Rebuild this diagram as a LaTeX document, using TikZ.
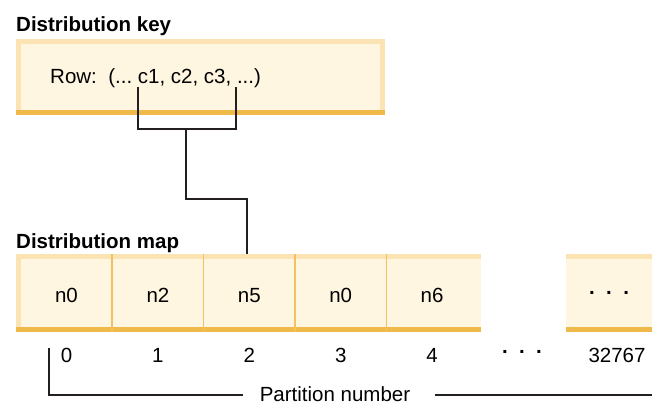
\documentclass[tikz,border=0pt]{standalone}
\usepackage{fontspec}
\setmainfont{Liberation Sans}
\usetikzlibrary{positioning}
\definecolor{creme}{HTML}{FEF6E1}
\definecolor{bevlight}{HTML}{FCE3B3}
\definecolor{bevdark}{HTML}{F0BA4A}
\definecolor{divider}{HTML}{F1C25E}
\definecolor{ink}{HTML}{231F20}
\tikzset{
    %Define standard line
    wire/.style={draw=ink, line width=1.6pt},
    heading/.style={
      font=\bfseries\fontsize{20.5}{24}\selectfont,
      inner sep=0pt, anchor=base west},
    keybox/.style={
      rectangle, fill=creme, inner sep=0pt,
      minimum width=369pt, minimum height=76pt,
      path picture={
        \fill[bevlight] (path picture bounding box.north west) rectangle ([yshift=-5pt]path picture bounding box.north east);
        \fill[bevlight] (path picture bounding box.north west) rectangle ([xshift=5pt]path picture bounding box.south west);
        \fill[bevlight] (path picture bounding box.north east) rectangle ([xshift=-5pt]path picture bounding box.south east);
        \fill[bevdark] (path picture bounding box.south west) rectangle ([yshift=5pt]path picture bounding box.south east);
      }},
    mapbox/.style={
      rectangle, fill=creme, inner sep=0pt,
      minimum height=78pt,
      path picture={
        \fill[bevlight] (path picture bounding box.north west) rectangle ([yshift=-5pt]path picture bounding box.north east);
        \fill[bevlight] (path picture bounding box.north west) rectangle ([xshift=5pt]path picture bounding box.south west);
        \fill[bevdark] (path picture bounding box.south west) rectangle ([yshift=5pt]path picture bounding box.south east);
      }},
    tailbox/.style={
      rectangle, fill=creme, inner sep=0pt,
      minimum height=78pt, minimum width=86pt,
      text height=18pt, text depth=0pt,
      path picture={
        \fill[bevlight] (path picture bounding box.north west) rectangle ([yshift=-5pt]path picture bounding box.north east);
        \fill[bevdark] (path picture bounding box.south west) rectangle ([yshift=5pt]path picture bounding box.south east);
      }},
    slot/.style={
      rectangle, inner sep=0pt,
      minimum width=91pt, minimum height=78pt,
      text height=18pt, text depth=0pt},
    num/.style={
      inner sep=0pt, text height=15pt, text depth=0pt},
}
\newcommand{\gapdots}[1]{\raisebox{#1}{\textbf{.\ \ .\ \ .}}}

\begin{document}
\begin{tikzpicture}[x=1pt, y=-1pt, node distance=0pt,
    font=\fontsize{20.5}{24}\selectfont]
    \useasboundingbox (0,0) rectangle (652,405);
    % key
    \node (keytitle) [heading] at (16,31) {Distribution key};
    \node (key) [keybox] at (200.5,77) {};
    \node (row) [inner sep=0pt, anchor=base west] at (50,83)
          {Row:\ \ (...\ c1, c2, c3, ...)};
    \coordinate (c1) at (138,87);
    \coordinate (c3) at (236,87);
    \coordinate (fork) at (186,129);
    \coordinate (elbow) at (186,199);
    % map
    \node (maptitle) [heading] at (16,248) {Distribution map};
    \node (map) [mapbox, minimum width=465pt] at (248.5,293) {};
    \node (cell0) [slot] at (66.5,293) {n0};
    \node (cell1) [slot] [right=of cell0] {n2};
    \node (cell2) [slot] [right=of cell1] {n5};
    \node (cell3) [slot] [right=of cell2] {n0};
    \node (cell4) [slot] [right=of cell3] {n6};
    \node (tail) [tailbox] at (609,293) {\gapdots{7.5pt}};
    \foreach \i in {0,...,3}
      \draw [draw=divider, line width=1.5pt] (cell\i.north east) -- (cell\i.south east);
    % partition numbers
    \node (num0) [num] [below=15pt of cell0] {0};
    \node (num1) [num] [below=15pt of cell1] {1};
    \node (num2) [num] [below=15pt of cell2] {2};
    \node (num3) [num] [below=15pt of cell3] {3};
    \node (num4) [num] [below=15pt of cell4] {4};
    \node (skip) [num, anchor=north] at (522,347) {\gapdots{8.5pt}};
    \node (numlast) [num, anchor=north] at (617,347) {32767};
    \node (plabel) [inner sep=0pt, anchor=base] at (335,401) {Partition number};
    \coordinate (ptop) at (49,348);
    \coordinate (pend) at (652,395);
    % connectors
    \draw [wire] (c1) -- (c1 |- fork) -- (c3 |- fork) -- (c3);
    \draw [wire] (fork) -- (elbow) -| ([xshift=-2.5pt]cell2.north);
    \draw [wire] (ptop) |- ([xshift=-17pt]plabel.west |- pend);
    \draw [wire] ([xshift=25pt]plabel.east |- pend) -- (pend);
\end{tikzpicture}
\end{document}
